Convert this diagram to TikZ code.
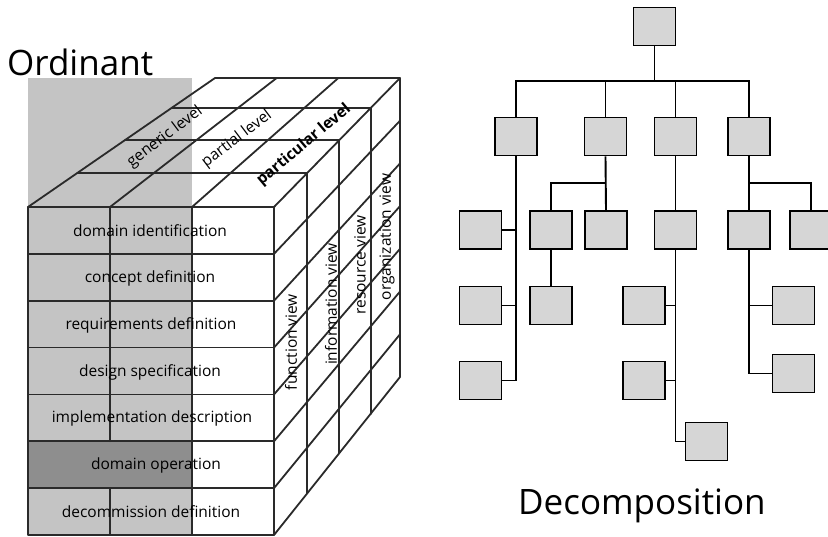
\documentclass[tikz,border=0pt]{standalone}
\usepackage{fontspec}
\setmainfont{Open Sans}
\usetikzlibrary{calc}
\definecolor{cubeline}{HTML}{2A2A2A}
\definecolor{lightshade}{HTML}{C4C4C4}
\definecolor{darkshade}{HTML}{8E8E8E}
\definecolor{boxfill}{HTML}{D6D6D6}
\tikzset{
  cube/.style={draw=cubeline, line width=1.8pt, line cap=round, line join=round},
  lbl/.style={font=\fontsize{15.5}{18}\selectfont, inner sep=0pt},
  vlbl/.style={lbl, rotate=90},
  tlbl/.style={lbl, rotate=37},
  title/.style={font=\fontsize{35}{40}\selectfont, inner sep=0pt},
  tbox/.style={draw=black, line width=1.7pt, fill=boxfill, minimum width=42pt, minimum height=38pt, inner sep=0pt},
  conn/.style={draw=black, line width=1.9pt}
}
\begin{document}
\begin{tikzpicture}[x=1pt, y=-1pt]
\useasboundingbox (0,0) rectangle (828,536);
% ---------------- Ordinant cube ----------------
\node[title, anchor=base west] (ordinant) at (7,75) {Ordinant};
% shading
\fill[lightshade] (28,78) rectangle (192,535);
\fill[darkshade] (28,{207+328*5/7}) rectangle (192,{207+328*6/7});
% front face
\draw[cube] (28,207) rectangle (274,535);
\foreach \r in {1,...,6} \draw[cube] (28,{207+328*\r/7}) -- (274,{207+328*\r/7});
\draw[cube] (110,207) -- (110,{207+328*5/7}) (110,{207+328*6/7}) -- (110,535);
\draw[cube] (192,207) -- (192,535);
% top face: columns
\foreach \c in {0,...,3} \draw[cube] ({28+82*\c},207) -- ({215+185*\c/3},78);
% top and right faces: depth slices
\foreach \t in {0.264,0.519,0.767,1} {
  \draw[cube] ({28+187*\t},{207-129*\t}) -- ({274+126*\t},{207-129*\t}) -- ({274+126*\t},{535-158*\t});
}
% right face: rows
\foreach \r in {1,...,7} \draw[cube] (274,{207+328*\r/7}) -- (400,{78+299*\r/7});
% front labels
\node[lbl] (l1) at (150,231) {domain identification};
\node[lbl] (l2) at (150,278) {concept definition};
\node[lbl] (l3) at (151,325) {requirements definition};
\node[lbl] (l4) at (150,372) {design specification};
\node[lbl] (l5) at (152,418) {implementation description};
\node[lbl] (l6) at (156,465) {domain operation};
\node[lbl] (l7) at (151,512) {decommission definition};
% top labels
\node[tlbl] (t1) at (165,137) {generic level};
\node[tlbl] (t2) at (237,139) {partial level};
\node[tlbl, font=\bfseries\fontsize{15.5}{18}\selectfont, rotate=3] (t3) at (304,145) {particular level};
% right labels
\node[vlbl] (v1) at (291,342) {function view};
\node[vlbl] (v2) at (331,304) {information view};
\node[vlbl] (v3) at (360,265) {resource view};
\node[vlbl] (v4) at (387,237) {organization view};
% ---------------- Decomposition tree ----------------
\node[tbox] (root) at (654.5,26.5) {};
\node[tbox] (a) at (516,136.5) {};
\node[tbox] (b) at (605.5,136.5) {};
\node[tbox] (c) at (675.5,136.5) {};
\node[tbox] (d) at (749,136.5) {};
\node[tbox] (a1) at (480.5,230) {};
\node[tbox] (b1) at (551,230) {};
\node[tbox] (b2) at (606,230) {};
\node[tbox] (c1) at (675.5,230) {};
\node[tbox] (d1) at (749,230) {};
\node[tbox] (d2) at (811,230) {};
\node[tbox] (a2) at (480.5,305.5) {};
\node[tbox] (b11) at (551,305.5) {};
\node[tbox] (c2) at (644,305.5) {};
\node[tbox] (d11) at (793.5,305.5) {};
\node[tbox] (a3) at (480.5,380.5) {};
\node[tbox] (c3) at (644,380.5) {};
\node[tbox] (d12) at (793.5,373.5) {};
\node[tbox] (c4) at (706.5,441.5) {};
\coordinate (bar) at (654.5,81);
\coordinate (bj) at (605.5,183);
\coordinate (dj) at (749,183);
\draw[conn] (root.south) -- (root.south|-bar);
\draw[conn] (a.north) -- (a.north|-bar) -| (d.north);
\draw[conn] (b.north) -- (b.north|-bar);
\draw[conn] (c.north) -- (c.north|-bar);
\draw[conn] (a.south) |- (a3.east);
\draw[conn] (a1.east) -- (a1.east-|a.south);
\draw[conn] (a2.east) -- (a2.east-|a.south);
\draw[conn] (b.south) -- (b2.north);
\draw[conn] (b1.north) |- (bj);
\draw[conn] (b1.south) -- (b11.north);
\draw[conn] (c.south) -- (c1.north);
\draw[conn] (c1.south) |- (c4.west);
\draw[conn] (c2.east) -- (c2.east-|c1.south);
\draw[conn] (c3.east) -- (c3.east-|c1.south);
\draw[conn] (d.south) -- (d1.north);
\draw[conn] (d2.north) |- (dj);
\draw[conn] (d1.south) |- (d12.west);
\draw[conn] (d11.west) -- (d11.west-|d1.south);
\node[title, anchor=base west] (decomp) at (518,514) {Decomposition};
\end{tikzpicture}
\end{document}
